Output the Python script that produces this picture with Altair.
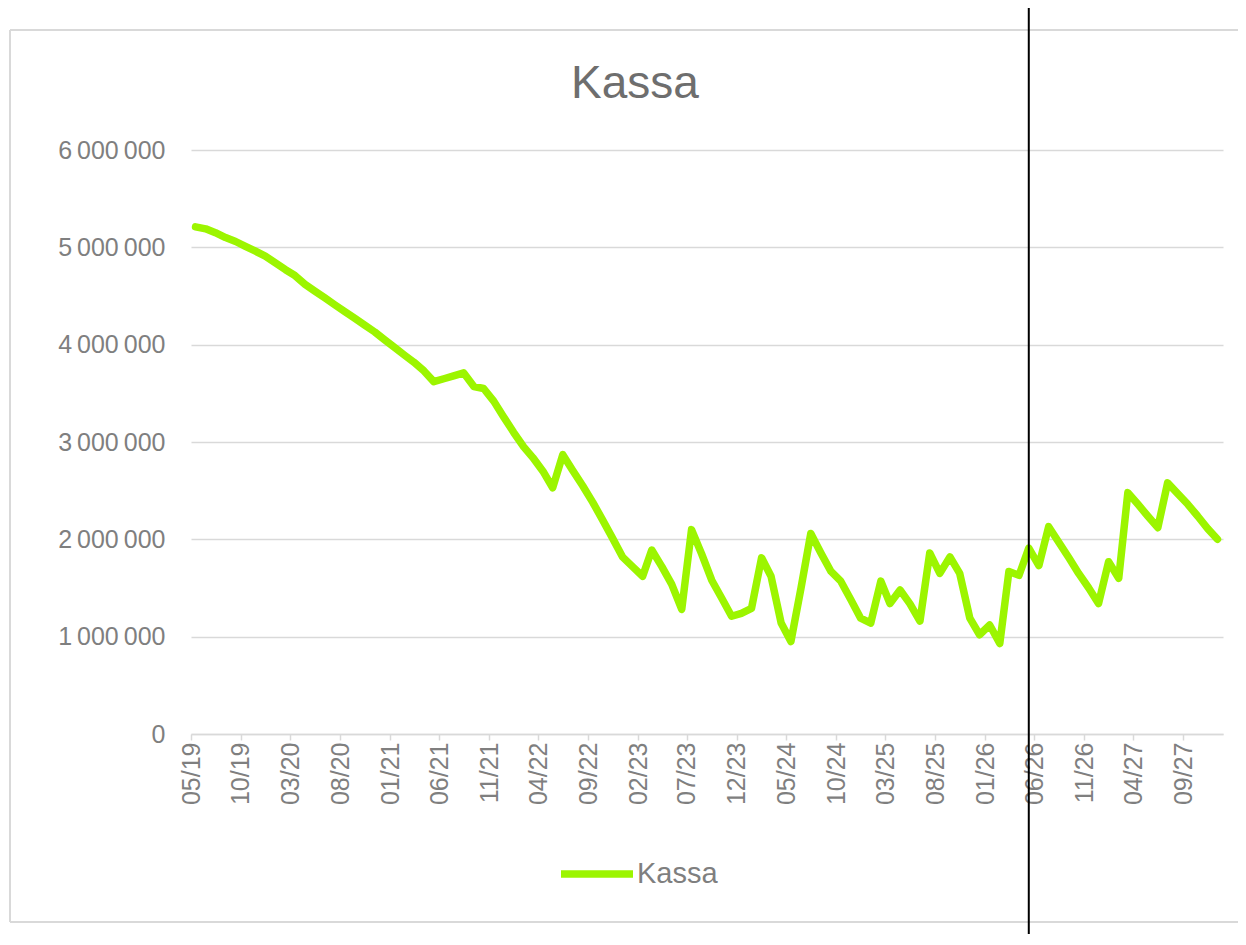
import altair as alt
import pandas as pd

# ---- data ----
chart_title = "Kassa"
series_name = "Kassa"
first_month = "2019-05-01"
kassa = [
    5210000, 5190000, 5150000, 5100000, 5060000, 5010000, 4960000, 4910000, 4840000, 4770000,
    4710000, 4620000, 4550000, 4480000, 4410000, 4340000, 4270000, 4200000, 4130000, 4050000,
    3970000, 3890000, 3820000, 3730000, 3620000, 3650000, 3680000, 3710000, 3570000, 3550000,
    3420000, 3260000, 3100000, 2950000, 2840000, 2700000, 2530000, 2870000, 2710000, 2550000,
    2380000, 2200000, 2010000, 1820000, 1720000, 1620000, 1890000, 1720000, 1540000, 1280000,
    2100000, 1850000, 1580000, 1400000, 1210000, 1240000, 1290000, 1810000, 1620000, 1140000,
    950000, 1500000, 2060000, 1860000, 1670000, 1570000, 1380000, 1190000, 1140000, 1570000,
    1340000, 1480000, 1340000, 1160000, 1860000, 1650000, 1820000, 1650000, 1190000, 1020000,
    1120000, 930000, 1670000, 1630000, 1910000, 1730000, 2130000, 1970000, 1810000, 1650000,
    1500000, 1340000, 1770000, 1600000, 2480000, 2360000, 2240000, 2120000, 2580000, 2470000,
    2360000, 2240000, 2110000, 2000000,
]
y_ticks = [0, 1000000, 2000000, 3000000, 4000000, 5000000, 6000000]
x_tick_step_months = 5
marker_month = "2026-05-15"

# ---- derived tables ----
month_starts = pd.date_range(first_month, periods=len(kassa), freq="MS")
months = [(d + pd.Timedelta(days=14)).strftime("%Y-%m-%d") for d in month_starts]
df = pd.DataFrame({"month": months, "value": kassa, "series": series_name})

tick_dates = pd.date_range(first_month, month_starts[-1], freq=f"{x_tick_step_months}MS")
tick_ms = [int(t.value // 10**6) for t in tick_dates]
dom0 = int(pd.Timestamp(first_month).value // 10**6)
dom1 = int((month_starts[-1] + pd.offsets.MonthBegin(1)).value // 10**6)

LIME = "#9cf500"
GRID = "#d9d9d9"
TXT = "#7f7f7f"
FONT = "Liberation Sans"
W, H = 1032, 584

x_enc = alt.X(
    "month:T",
    title=None,
    scale=alt.Scale(type="utc", domain=[dom0, dom1]),
    axis=alt.Axis(
        values=tick_ms, format="%m/%y", labelAngle=-90, grid=False,
        domain=True, domainColor=GRID, domainWidth=1.5,
        ticks=True, tickColor=GRID, tickSize=6, tickWidth=1.5,
        labelPadding=2, labelFontSize=25, labelColor=TXT, labelFont=FONT,
        labelOverlap=False,
    ),
)

line = alt.Chart(df).mark_line(strokeWidth=7.5, strokeCap="round", strokeJoin="round").encode(
    x=x_enc,
    y=alt.Y(
        "value:Q",
        title=None,
        scale=alt.Scale(domain=[0, 6000000], nice=False, zero=True),
        axis=alt.Axis(
            values=y_ticks,
            labelExpr="replace(replace(format(datum.value, ',d'), ',', '\u2009'), ',', '\u2009')",
            grid=True, gridColor=GRID, gridWidth=1.5,
            domain=False, ticks=False, labelPadding=26,
            labelFontSize=25, labelColor=TXT, labelFont=FONT,
        ),
    ),
    color=alt.Color(
        "series:N",
        scale=alt.Scale(range=[LIME]),
        legend=alt.Legend(
            title=None, orient="none", legendX=366, legendY=684,
            symbolType="stroke", symbolSize=5184, symbolStrokeWidth=7.5,
            labelFontSize=29, labelColor=TXT, labelFont=FONT, labelOffset=0, padding=0,
        ),
    ),
)

rule = alt.Chart(pd.DataFrame({"month": [marker_month]})).mark_rule(
    color="black", strokeWidth=2
).encode(
    x=alt.X("month:T"),
    y=alt.value(-142),
    y2=alt.value(H + 200),
)

frame_src = pd.DataFrame({"k": [0]})
frame_top = alt.Chart(frame_src).mark_rule(color=GRID, strokeWidth=2).encode(
    x=alt.value(-181), x2=alt.value(W + 200), y=alt.value(-120)
)
frame_bottom = alt.Chart(frame_src).mark_rule(color=GRID, strokeWidth=2).encode(
    x=alt.value(-181), x2=alt.value(W + 200), y=alt.value(772)
)
frame_left = alt.Chart(frame_src).mark_rule(color=GRID, strokeWidth=2).encode(
    x=alt.value(-181), y=alt.value(-120), y2=alt.value(772)
)

title = alt.Chart(pd.DataFrame({"t": [chart_title]})).mark_text(
    font=FONT, fontSize=46, color="#6e6e6e", align="center", baseline="alphabetic"
).encode(
    text="t:N",
    x=alt.value(444),
    y=alt.value(-52),
)

chart = alt.layer(frame_top, frame_bottom, frame_left, line, rule, title).properties(
    width=W,
    height=H,
    autosize=alt.AutoSizeParams(type="none"),
    padding={"left": 183, "top": 142, "right": 15, "bottom": 200},
    background="white",
).configure_view(stroke=None)

chart.save("out.html", embed_options={"renderer": "svg", "actions": False})
